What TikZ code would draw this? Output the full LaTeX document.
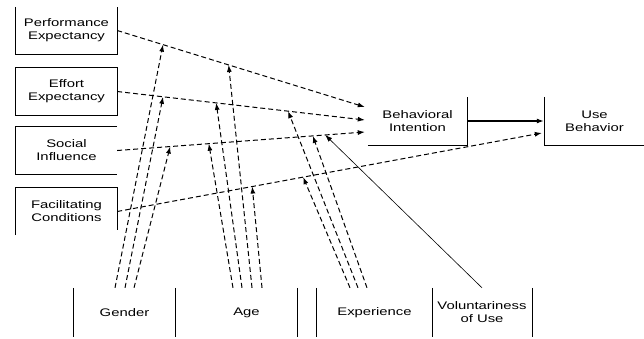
\documentclass[tikz,border=0pt]{standalone}
\usepackage{fontspec}
\setmainfont{Liberation Sans}[FakeStretch=1.35]
\usetikzlibrary{arrows.meta}
\tikzset{
	factor/.style   ={minimum width=101pt, minimum height=47pt, inner sep=0pt, align=center},
	moder/.style    ={minimum height=49pt, inner sep=0pt, align=center},
	edge/.style     ={line width=1.2pt},
	% effect and moderation arrows
	effect/.style   ={dash pattern=on 5pt off 3pt, line width=1pt, -{Latex[length=7pt,width=5pt]}},
	solidarrow/.style={line width=1.2pt, -{Latex[length=7pt,width=5pt]}},
	thinarrow/.style={line width=0.6pt, -{Latex[length=7pt,width=5pt]}},
}

\begin{document}
\begin{tikzpicture}[x=1pt, y=-1pt, font=\fontsize{11}{13}\selectfont]
	\useasboundingbox (0,0) rectangle (644,338);
	% ---------- predictors ----------
	\node[factor] (pe) at (66.5,30.5) {Performance\\Expectancy};
	\node[factor] (ee) at (66.5,91.5) {Effort\\Expectancy};
	\node[factor] (si) at (66.5,150.5) {Social\\Influence};
	\node[factor] (fc) at (66.5,211.5) {Facilitating\\Conditions};
	\draw[edge] (pe.north west) -- (pe.south west) -- (pe.south east) -- (pe.north east);
	\draw[edge] (ee.north west) rectangle (ee.south east);
	\draw[edge] (si.north east) -- (si.north west) -- (si.south west) -- (si.south east);
	\draw[edge] (fc.south west) -- (fc.north west) -- (fc.north east) -- ([yshift=5pt]fc.south east);
	% ---------- outcomes ----------
	\node[factor, minimum width=99pt, minimum height=48pt] (bi) at (417.5,121) {Behavioral\\Intention};
	\node[factor, minimum width=99pt, minimum height=48pt] (ub) at (594.5,121) {Use\\Behavior};
	\draw[edge] (bi.south west) -- (bi.south east) -- (bi.north east);
	\draw[edge] (ub.north west) -- (ub.south west) -- (ub.south east);
	% ---------- moderators ----------
	\node[moder, minimum width=101pt] (gen) at (124.5,312.5) {Gender};
	\node[moder, minimum width=101pt] (age) at (246.5,312.5) {Age};
	\node[moder, minimum width=115pt] (exper) at (374.5,312.5) {Experience};
	\node[moder, minimum width=100pt] (vol) at (482,312.5) {Voluntariness\\of Use};
	\draw[edge] (gen.north west) -- (gen.south west) (gen.north east) -- (gen.south east);
	\draw[edge] (age.north east) -- (age.south east);
	\draw[edge] (exper.north west) -- (exper.south west) (exper.north east) -- (exper.south east);
	\draw[edge] (vol.north east) -- (vol.south east);
	% ---------- direct effects ----------
	\draw[effect] (pe.east) -- coordinate[pos=0.185] (pe-g) coordinate[pos=0.45] (pe-a) ([xshift=-3pt,yshift=14pt]bi.west);
	\draw[effect] (ee.east) -- coordinate[pos=0.185] (ee-g) coordinate[pos=0.40] (ee-a) coordinate[pos=0.69] (ee-e) ([xshift=-3pt,yshift=1pt]bi.west);
	\draw[effect] (si.east) -- coordinate[pos=0.214] (si-g) coordinate[pos=0.37] (si-a) coordinate[pos=0.79] (si-e) coordinate[pos=0.84] (si-v) ([xshift=-3pt,yshift=-11pt]bi.west);
	\draw[effect] (fc.east) -- coordinate[pos=0.318] (fc-a) coordinate[pos=0.438] (fc-e) ([xshift=-3pt,yshift=-12pt]ub.west);
	\draw[solidarrow] (bi.east) -- ([xshift=-1pt]ub.west);
	% ---------- moderating effects ----------
	\draw[effect] ([xshift=-9.5pt]gen.north) -- (pe-g);
	\draw[effect] ([xshift=0.5pt]gen.north) -- (ee-g);
	\draw[effect] ([xshift=9.5pt]gen.north) -- (si-g);
	\draw[effect] ([xshift=-13.5pt]age.north) -- (si-a);
	\draw[effect] ([xshift=-4.5pt]age.north) -- (ee-a);
	\draw[effect] ([xshift=5.5pt]age.north) -- (pe-a);
	\draw[effect] ([xshift=15.5pt]age.north) -- (fc-a);
	\draw[effect] ([xshift=-24.5pt]exper.north) -- (fc-e);
	\draw[effect] ([xshift=-16.5pt]exper.north) -- (ee-e);
	\draw[effect] ([xshift=-7.5pt]exper.north) -- (si-e);
	\draw[thinarrow] (vol.north) -- (si-v);
\end{tikzpicture}
\end{document}
